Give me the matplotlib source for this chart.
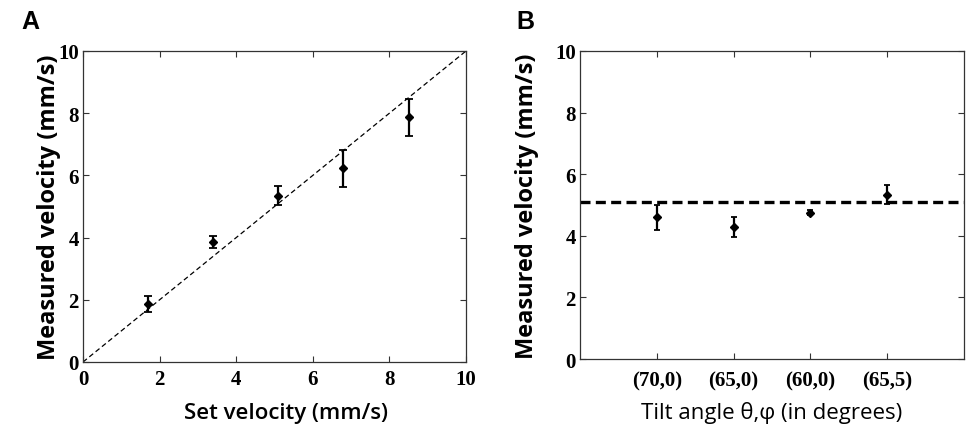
import matplotlib
matplotlib.use("Agg")
import matplotlib.pyplot as plt
import numpy as np

# Panel A data
set_velocity = [1.7, 3.4, 5.1, 6.8, 8.5]
measured_a = [1.87, 3.85, 5.35, 6.23, 7.87]
err_a = [0.26, 0.20, 0.30, 0.59, 0.59]

# Panel B data
tilt_labels = ["(70,0)", "(65,0)", "(60,0)", "(65,5)"]
measured_b = [4.60, 4.29, 4.75, 5.34]
err_b = [0.40, 0.32, 0.08, 0.32]
reference_b = 5.1

W, H = 966, 427
fig = plt.figure(figsize=(W / 100, H / 100), dpi=100)

def ax_rect(l, t, r, b):
    return [l / W, 1 - b / H, (r - l) / W, (b - t) / H]

TICK_SIZE = 15
label_font_bold = dict(family="Open Sans", weight="bold", size=17)

def style(ax):
    for s in ax.spines.values():
        s.set_linewidth(0.9)
        s.set_color("#333333")
    ax.tick_params(direction="in", length=4, width=0.8, top=True, right=True,
                   labelsize=TICK_SIZE, pad=3, colors="#333333", labelcolor="black")
    for lab in ax.get_xticklabels() + ax.get_yticklabels():
        lab.set_fontfamily("Liberation Serif")
        lab.set_fontweight("bold")
        lab.set_fontsize(TICK_SIZE)

# Panel A
axA = fig.add_axes(ax_rect(83, 52, 466, 363))
axA.plot([0, 10], [0, 10], ls=(0, (4, 2.5)), color="black", lw=0.9)
axA.errorbar(set_velocity, measured_a, yerr=err_a, fmt="D", ms=4, color="black",
             ecolor="black", elinewidth=1.6, capsize=3, capthick=1.3)
axA.set_xlim(0, 10)
axA.set_ylim(0, 10)
axA.set_xticks(range(0, 11, 2))
axA.set_yticks(range(0, 11, 2))
style(axA)
axA.tick_params(axis="x", pad=5)
axA.set_xlabel("Set velocity (mm/s)", family="Open Sans", weight="semibold", size=16, va="center")
axA.xaxis.set_label_coords(0.53, -0.161)
axA.set_ylabel("Measured velocity (mm/s)", va="center", **label_font_bold)
axA.yaxis.set_label_coords(-0.09, 0.5)
fig.text(30 / W, 1 - 22 / H, "A", family="Liberation Sans", weight="bold", size=18, va="center", ha="center")

# Panel B
axB = fig.add_axes(ax_rect(580, 52, 964, 360))
pos = np.arange(1, len(tilt_labels) + 1)
axB.axhline(reference_b, ls=(0, (3, 1.6)), color="black", lw=2.4)
axB.errorbar(pos, measured_b, yerr=err_b, fmt="D", ms=4, color="black",
             ecolor="black", elinewidth=1.6, capsize=2.5, capthick=1.3)
axB.set_xlim(0, 5)
axB.set_ylim(0, 10)
axB.set_xticks(pos)
axB.set_xticklabels(tilt_labels)
axB.set_yticks(range(0, 11, 2))
style(axB)
axB.tick_params(axis="x", pad=8)
axB.set_xlabel("Tilt angle θ,φ (in degrees)", family="Open Sans", weight="normal", size=16, va="center")
axB.xaxis.set_label_coords(0.5, -0.172)
axB.set_ylabel("Measured velocity (mm/s)", va="center", **label_font_bold)
axB.yaxis.set_label_coords(-0.138, 0.5)
fig.text(525 / W, 1 - 22 / H, "B", family="Liberation Sans", weight="bold", size=18, va="center", ha="center")

fig.savefig("out.png", dpi=100)
